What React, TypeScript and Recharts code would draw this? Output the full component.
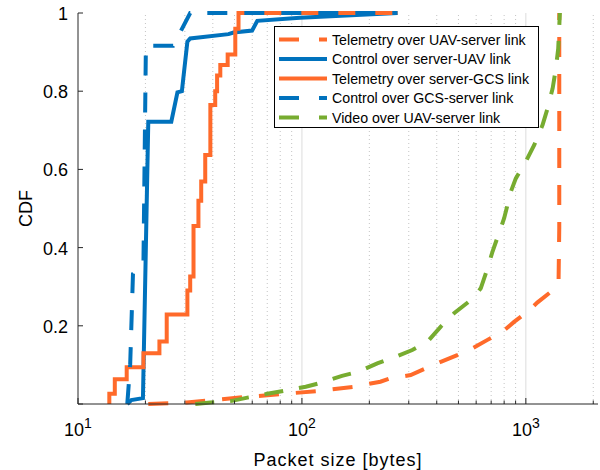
import { Legend, Line, LineChart, ReferenceLine, XAxis, YAxis } from "recharts";

const ORANGE = "#FF6A2A";
const BLUE = "#0072BD";
const GREEN = "#77AC30";
const AXIS = "#262626";
const FONT = "'Liberation Sans', Arial, Helvetica, sans-serif";

// packet size [bytes] / CDF
const telemUavServerX = [20.6, 30.6, 54, 72.3, 117, 170, 224, 249, 306, 357, 417, 494, 577, 674, 787, 886, 1018, 1128, 1294, 1400, 1410, 1410];
const telemUavServerY = [0, 0.004, 0.017, 0.023, 0.033, 0.044, 0.057, 0.066, 0.074, 0.091, 0.108, 0.125, 0.142, 0.164, 0.185, 0.21, 0.236, 0.26, 0.287, 0.317, 0.45, 1];

const ctrlServerUavX = [16.6, 17.3, 19.5, 20.6, 26.1, 27.8, 29.1, 30.8, 31.7, 47, 49.5, 59.9, 63.2, 98, 267];
const ctrlServerUavY = [0, 0.01, 0.015, 0.722, 0.722, 0.797, 0.8, 0.927, 0.935, 0.946, 0.95, 0.955, 0.98, 0.988, 1];

const telemServerGcsX = [13.8, 13.8, 14.6, 16.5, 19.6, 23.1, 24.9, 30.8, 31.7, 32.8, 34.5, 35.5, 37.0, 39.0, 41.0, 41.8, 43.2, 46.6, 50.4, 52.1, 267];
const telemServerGcsY = [0, 0.026, 0.063, 0.094, 0.13, 0.16, 0.229, 0.29, 0.326, 0.455, 0.52, 0.569, 0.637, 0.765, 0.8, 0.84, 0.867, 0.894, 0.96, 1, 1];

const ctrlGcsServerX = [16.6, 17.1, 17.6, 19.6, 20.1, 26.6, 31.7, 267];
const ctrlGcsServerY = [0, 0.1, 0.333, 0.36, 0.916, 0.916, 1, 1];

const videoUavServerX = [33.4, 39, 48.7, 57.8, 70, 84, 104, 123, 151, 180, 217, 258, 311, 363, 417, 478, 557, 600, 629, 674, 710, 800, 857, 902, 1000, 1089, 1188, 1250, 1317, 1362, 1395, 1419];
const videoUavServerY = [0, 0.004, 0.008, 0.017, 0.026, 0.034, 0.044, 0.055, 0.072, 0.083, 0.104, 0.119, 0.138, 0.159, 0.198, 0.232, 0.262, 0.28, 0.296, 0.347, 0.39, 0.475, 0.543, 0.577, 0.62, 0.662, 0.714, 0.756, 0.807, 0.858, 0.909, 1];

const decadeTicks = [10, 100, 1000];
const minorTicks = [20, 30, 40, 50, 60, 70, 80, 90, 200, 300, 400, 500, 600, 700, 800, 900, 2000];
const xTicks = [...decadeTicks, ...minorTicks].sort((a, b) => a - b);
const yTicks = [0, 0.2, 0.4, 0.6, 0.8, 1];
const X_DOMAIN = [10, 2100];

const toPoints = (xs: number[], ys: number[]) => xs.map((x, i) => ({ x, y: ys[i] }));

const series = [
  { name: "Telemetry over UAV-server link", data: toPoints(telemUavServerX, telemUavServerY), color: ORANGE, dash: "20 17", type: "linear" },
  { name: "Control over server-UAV link", data: toPoints(ctrlServerUavX, ctrlServerUavY), color: BLUE, dash: undefined, type: "linear" },
  { name: "Telemetry over server-GCS link", data: toPoints(telemServerGcsX, telemServerGcsY), color: ORANGE, dash: undefined, type: "stepAfter" },
  { name: "Control over GCS-server link", data: toPoints(ctrlGcsServerX, ctrlGcsServerY), color: BLUE, dash: "20 17", type: "linear" },
  { name: "Video over UAV-server link", data: toPoints(videoUavServerX, videoUavServerY), color: GREEN, dash: "19 16", type: "linear" },
] as const;

function BottomTick({ x, y, payload }: any) {
  const v = payload.value;
  const major = decadeTicks.includes(v);
  return (
    <g>
      <line x1={x} x2={x} y1={y} y2={y - (major ? 6 : 3.5)} stroke={AXIS} />
      {major && (
        <text x={x} y={y + 32} textAnchor="middle" fontSize={18} fontFamily={FONT} fill="#000">
          10
          <tspan dy={-8} fontSize={14}>
            {Math.round(Math.log10(v))}
          </tspan>
        </text>
      )}
    </g>
  );
}

function TopTick({ x, y, payload }: any) {
  const major = decadeTicks.includes(payload.value);
  return <line x1={x} x2={x} y1={y} y2={y + (major ? 6 : 3.5)} stroke={AXIS} />;
}

function LeftTick({ x, y, payload }: any) {
  const v = payload.value;
  return (
    <g>
      <line x1={x} x2={x + 5} y1={y} y2={y} stroke={AXIS} />
      {v > 0 && (
        <text x={x - 10} y={y + 7} textAnchor="end" fontSize={18} fontFamily={FONT} fill="#000">
          {v}
        </text>
      )}
    </g>
  );
}

function RightTick({ x, y }: any) {
  return <line x1={x} x2={x - 5} y1={y} y2={y} stroke={AXIS} />;
}

function LegendBox() {
  return (
    <svg width={265} height={102} style={{ display: "block" }}>
      <rect x={0.5} y={0.5} width={264} height={101} fill="#fff" stroke="#000" />
      {series.map((s, i) => {
        const cy = 13.5 + i * 19.5;
        return (
          <g key={s.name}>
            <line x1={5} x2={53} y1={cy} y2={cy} stroke={s.color} strokeWidth={4} strokeDasharray={s.dash ? "20 20" : undefined} />
            <text x={58} y={cy + 5} fontSize={14.2} fontFamily={FONT} fill="#000">
              {s.name}
            </text>
          </g>
        );
      })}
    </svg>
  );
}

export default function App() {
  return (
    <div style={{ position: "absolute", left: 0, top: 0, background: "#fff" }}>
      <LineChart width={600} height={470} margin={{ top: 13, right: 2, bottom: 0, left: 0 }}>
        <XAxis
          dataKey="x"
          type="number"
          scale="log"
          domain={X_DOMAIN}
          allowDataOverflow
          ticks={xTicks}
          interval={0}
          height={66}
          tickSize={0}
          tickMargin={0}
          tickLine={false}
          tick={<BottomTick />}
          axisLine={{ stroke: AXIS }}
          label={(props: any) => {
            const vb = props.viewBox ?? { x: 78, y: 404, width: 520 };
            return (
              <text x={vb.x + vb.width / 2} y={vb.y + 62} textAnchor="middle" fontSize={18} letterSpacing={1} fontFamily={FONT} fill="#000">
                Packet size [bytes]
              </text>
            );
          }}
        />
        <XAxis
          xAxisId="top"
          orientation="top"
          type="number"
          scale="log"
          domain={X_DOMAIN}
          allowDataOverflow
          ticks={xTicks}
          interval={0}
          height={0}
          tickSize={0}
          tickMargin={0}
          tickLine={false}
          tick={<TopTick />}
          axisLine={{ stroke: AXIS }}
        />
        <YAxis
          type="number"
          domain={[0, 1]}
          ticks={yTicks}
          interval={0}
          width={78}
          tickSize={0}
          tickMargin={0}
          tickLine={false}
          tick={<LeftTick />}
          axisLine={{ stroke: AXIS }}
          label={(props: any) => {
            const vb = props.viewBox ?? { y: 13, height: 391 };
            const cy = vb.y + vb.height / 2;
            return (
              <text x={32} y={cy} transform={`rotate(-90 32 ${cy})`} textAnchor="middle" fontSize={18} fontFamily={FONT} fill="#000">
                CDF
              </text>
            );
          }}
        />
        <YAxis
          yAxisId="right"
          orientation="right"
          type="number"
          domain={[0, 1]}
          allowDataOverflow
          ticks={yTicks}
          interval={0}
          width={0}
          tickSize={0}
          tickMargin={0}
          tickLine={false}
          tick={<RightTick />}
          axisLine={{ stroke: AXIS }}
        />
        {minorTicks.map((v) => (
          <ReferenceLine key={v} x={v} stroke="#c4c4c4" strokeDasharray="1 3" />
        ))}
        {decadeTicks
          .filter((v) => v > 10)
          .map((v) => (
            <ReferenceLine key={v} x={v} stroke="#dcdcdc" />
          ))}
        {series.map((s) => (
          <Line
            key={s.name}
            name={s.name}
            data={s.data as any}
            dataKey="y"
            type={s.type as any}
            stroke={s.color}
            strokeWidth={4}
            strokeDasharray={s.dash}
            dot={false}
            activeDot={false}
            isAnimationActive={false}
          />
        ))}
        <Legend
          layout="vertical"
          align="center"
          verticalAlign="middle"
          wrapperStyle={{ left: 274, top: 26, width: 265, height: 102 }}
          content={() => <LegendBox />}
        />
      </LineChart>
    </div>
  );
}
